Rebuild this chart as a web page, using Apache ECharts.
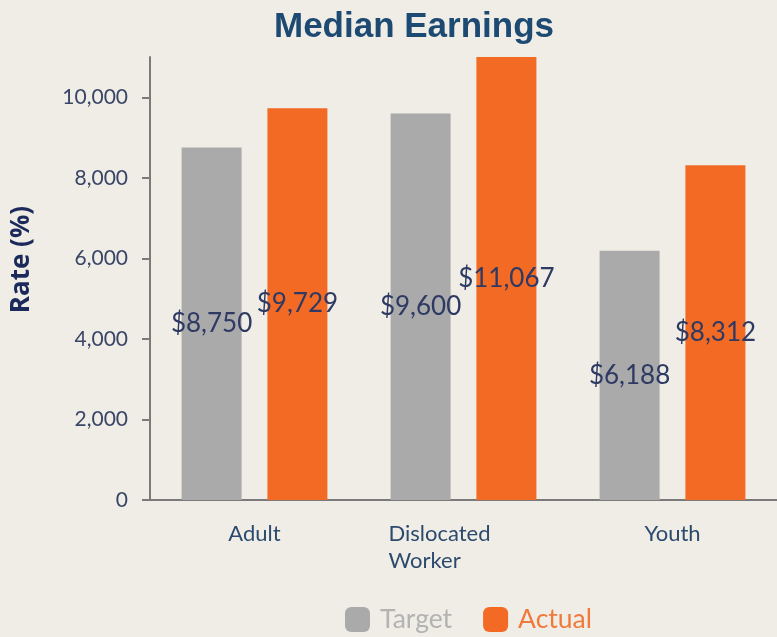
<!DOCTYPE html>
<html>
<head>
<meta charset="utf-8">
<script src="https://cdn.jsdelivr.net/npm/echarts@6/dist/echarts.min.js"></script>
<style>
  html, body { margin: 0; padding: 0; background: #efede5; }
  #chart { width: 777px; height: 637px; }
</style>
</head>
<body>
<div id="chart"></div>
<script>
// Median earnings by program group
const categories = ['Adult', 'Dislocated Worker', 'Youth'];
const targetValues = [8750, 9600, 6188];
const actualValues = [9729, 11067, 8312];
const seriesNames = ['Target', 'Actual'];
const yTicks = [0, 2000, 4000, 6000, 8000, 10000];

const navy = '#2e3a63';
const fmtMoney = v => '$' + v.toLocaleString('en-US');

const chart = echarts.init(document.getElementById('chart'), null, { renderer: 'canvas' });

const valueLabel = {
  show: true,
  position: 'inside',
  formatter: p => fmtMoney(p.value),
  fontFamily: 'Lato',
  fontSize: 26,
  color: navy
};

chart.setOption({
  backgroundColor: '#efede5',
  animation: false,
  title: {
    text: 'Median Earnings',
    left: 409,
    textAlign: 'center',
    top: 5,
    textStyle: {
      fontFamily: 'Liberation Sans',
      fontWeight: 'bold',
      fontSize: 35,
      color: '#1d4a73'
    }
  },
  legend: {
    data: [
      { name: seriesNames[0], textStyle: { color: '#b3b3b3' } },
      { name: seriesNames[1], textStyle: { color: '#f07a3c' } }
    ],
    padding: 0,
    bottom: 4,
    left: 345,
    itemWidth: 25,
    itemHeight: 25,
    itemGap: 31,
    icon: 'roundRect',
    textStyle: { fontFamily: 'Lato', fontSize: 26.5, padding: [0, 0, 0, 5] }
  },
  grid: { left: 150, right: -1, top: 57, bottom: 137, containLabel: false },
  xAxis: {
    type: 'category',
    data: categories,
    axisLine: { lineStyle: { color: '#7a7a7a', width: 2 } },
    axisTick: { alignWithLabel: true, length: 8, lineStyle: { color: '#7a7a7a', width: 2 } },
    axisLabel: {
      margin: 20,
      fontFamily: 'Lato',
      fontSize: 22,
      lineHeight: 27,
      color: '#2c4a6e',
      formatter: v => v === 'Dislocated Worker'
        ? '{l|Dislocated}\n{l|Worker}'
        : v,
      rich: {
        l: { width: 150, align: 'left', fontFamily: 'Lato', fontSize: 22, lineHeight: 27, color: '#2c4a6e' }
      }
    }
  },
  yAxis: {
    type: 'value',
    min: 0,
    max: 11000,
    interval: 2000,
    name: 'Rate (%)',
    nameLocation: 'middle',
    nameGap: 115,
    nameTextStyle: {
      fontFamily: 'Open Sans',
      fontWeight: 'bold',
      fontSize: 26,
      color: '#1b2a5a',
      padding: [0, 0, 0, 38]
    },
    splitLine: { show: false },
    axisLine: { show: true, lineStyle: { color: '#7a7a7a', width: 2 } },
    axisTick: { show: true, length: 8, customValues: yTicks, lineStyle: { color: '#7a7a7a', width: 2 } },
    axisLabel: {
      margin: 22,
      fontFamily: 'Lato',
      fontSize: 21,
      color: '#3a4668',
      customValues: yTicks,
      formatter: v => v.toLocaleString('en-US')
    }
  },
  series: [
    {
      name: seriesNames[0],
      type: 'bar',
      data: targetValues,
      barWidth: 60,
      barGap: '43%',
      itemStyle: { color: '#aaaaaa' },
      label: valueLabel
    },
    {
      name: seriesNames[1],
      type: 'bar',
      data: actualValues,
      barWidth: 60,
      barGap: '43%',
      itemStyle: { color: '#f26a24' },
      label: valueLabel
    }
  ]
});
</script>
</body>
</html>
